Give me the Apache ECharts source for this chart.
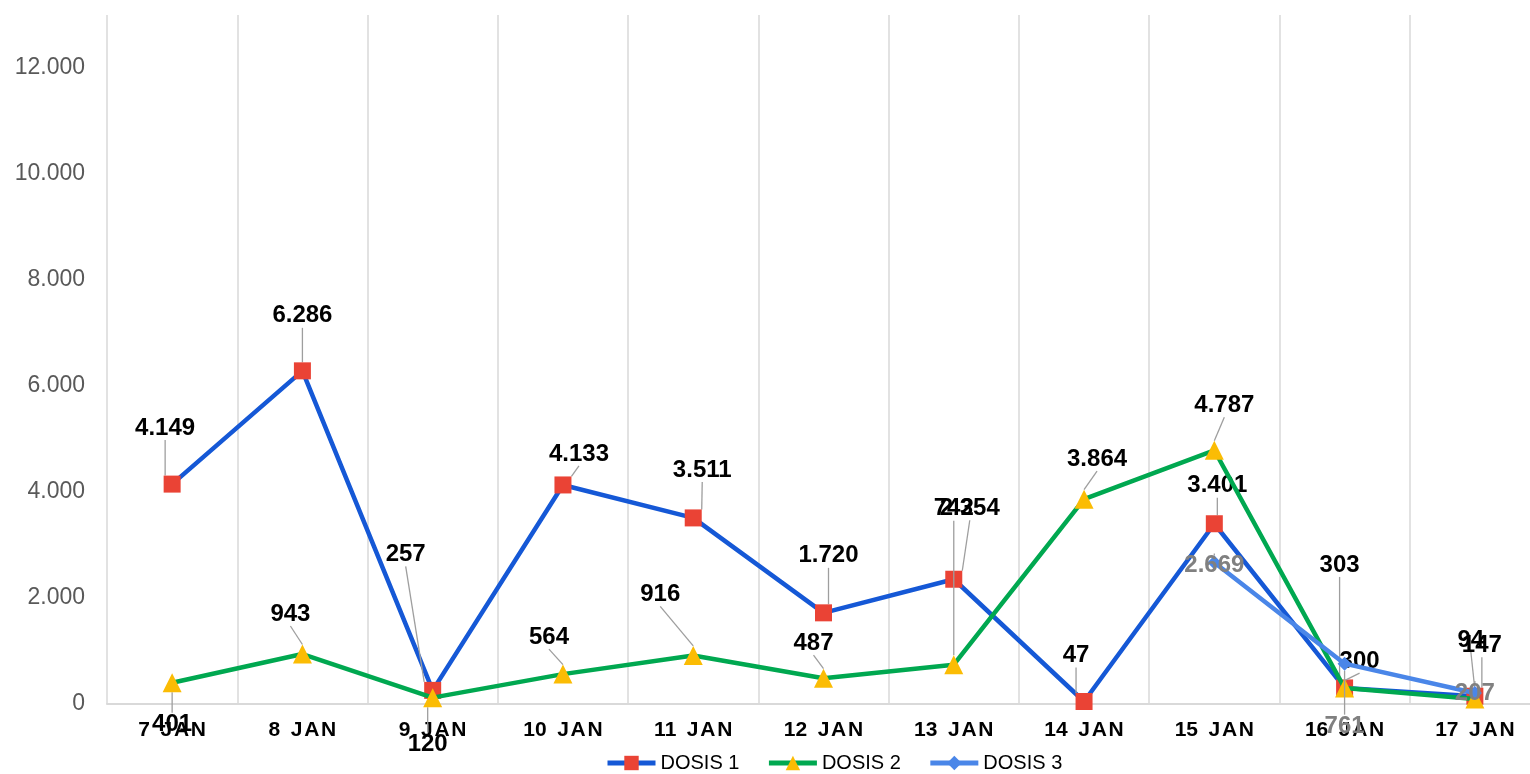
<!DOCTYPE html>
<html>
<head>
<meta charset="utf-8">
<script src="https://cdn.jsdelivr.net/npm/echarts@6/dist/echarts.min.js"></script>
<style>
html,body{margin:0;padding:0;background:#fff;}
#chart{width:1530px;height:774px;}
</style>
</head>
<body>
<div id="chart"></div>
<script>
// ---- data ----
const categories = ['7 JAN','8 JAN','9 JAN','10 JAN','11 JAN','12 JAN','13 JAN','14 JAN','15 JAN','16 JAN','17 JAN'];
const dosis1 = [4149, 6286, 257, 4133, 3511, 1720, 2354, 47, 3401, 303, 147];
const dosis2 = [401, 943, 120, 564, 916, 487, 742, 3864, 4787, 300, 94];
const dosis3 = ['-', '-', '-', '-', '-', '-', '-', '-', 2669, 761, 207];
const seriesNames = ['DOSIS 1', 'DOSIS 2', 'DOSIS 3'];
const yTicks = [0, 2000, 4000, 6000, 8000, 10000, 12000];

// label placement (pixel offsets of each data label from its point)
const labelOffsets = [
  [[-7,-56],[0,-55],[-27,-136],[16,-31],[9,-48],[5,-57],[16,-71],[-8,-46],[3,-38],[-5,-123],[7,-51]],
  [[0,42],[-12,-40],[-5,47],[-14,-37],[-33,-61],[-10,-35],[0,-156],[13,-40],[10,-45],[15,-27],[-4,-59]],
  [null,null,null,null,null,null,null,null,[0,3],[0,63],[0,0]]
];

function fmt(v){
  return String(Math.round(v)).replace(/\B(?=(\d{3})+(?!\d))/g, '.');
}
function spaced(s){
  const parts = s.split(' ');
  return parts[0] + '\u2002' + parts[1].split('').join('\u200A');
}

const FONT = 'Arial, "Liberation Sans", sans-serif';
const chart = echarts.init(document.getElementById('chart'));

function makeLayout(si){
  return function(params){
    const off = labelOffsets[si][params.dataIndex];
    if (!off) return {};
    const r = params.rect;
    return {
      x: r.x + r.width/2 + off[0],
      y: r.y + r.height/2 + off[1],
      align: 'center',
      verticalAlign: 'middle'
    };
  };
}

const labelBase = {
  show: true,
  position: 'inside',
  fontFamily: FONT,
  fontSize: 24,
  fontWeight: 'bold',
  color: '#000',
  formatter: p => fmt(p.value)
};
const labelLineBase = {
  show: true,
  lineStyle: {color: '#9e9e9e', width: 1.3},
  length2: 0
};

const option = {
  backgroundColor: '#fff',
  animation: false,
  grid: {left: 107, right: -10, top: 15, bottom: 70, outerBoundsMode: 'none', containLabel: false},
  legend: {
    top: 748,
    left: 600,
    itemWidth: 48,
    itemHeight: 18,
    itemGap: 27,
    data: seriesNames,
    lineStyle: {width: 5},
    textStyle: {fontFamily: FONT, fontSize: 20, color: '#000'}
  },
  xAxis: {
    type: 'category',
    data: categories,
    boundaryGap: true,
    axisLine: {show: true, lineStyle: {color: '#d9d9d9', width: 2}},
    axisTick: {show: false},
    splitLine: {show: true, lineStyle: {color: '#d9d9d9', width: 1.5}},
    axisLabel: {
      interval: 0,
      margin: 16,
      fontFamily: FONT,
      fontSize: 21,
      fontWeight: 'bold',
      color: '#000',
      formatter: v => spaced(v)
    }
  },
  yAxis: {
    type: 'value',
    min: 0,
    max: 13000,
    interval: 2000,
    axisLine: {show: false},
    axisTick: {show: false},
    splitLine: {show: false},
    axisLabel: {
      margin: 22,
      fontFamily: FONT,
      fontSize: 23,
      color: '#595959',
      formatter: v => (yTicks.indexOf(v) >= 0 ? fmt(v) : '')
    }
  },
  series: [
    {
      name: seriesNames[0],
      type: 'line',
      data: dosis1,
      symbol: 'rect',
      symbolSize: 17,
      lineStyle: {color: '#1558d6', width: 4.5},
      itemStyle: {color: '#ea4335'},
      label: labelBase,
      labelLine: labelLineBase,
      labelLayout: makeLayout(0),
      z: 2
    },
    {
      name: seriesNames[1],
      type: 'line',
      data: dosis2,
      symbol: 'triangle',
      symbolSize: 19,
      lineStyle: {color: '#00a850', width: 4.5},
      itemStyle: {color: '#fbbc04'},
      label: labelBase,
      labelLine: labelLineBase,
      labelLayout: makeLayout(1),
      z: 3
    },
    {
      name: seriesNames[2],
      type: 'line',
      data: dosis3,
      symbol: 'diamond',
      symbolSize: 14,
      lineStyle: {color: '#4a86e8', width: 4.5},
      itemStyle: {color: '#4a86e8'},
      label: Object.assign({}, labelBase, {color: '#808080'}),
      labelLine: labelLineBase,
      labelLayout: makeLayout(2),
      z: 4
    }
  ]
};
chart.setOption(option);
</script>
</body>
</html>
